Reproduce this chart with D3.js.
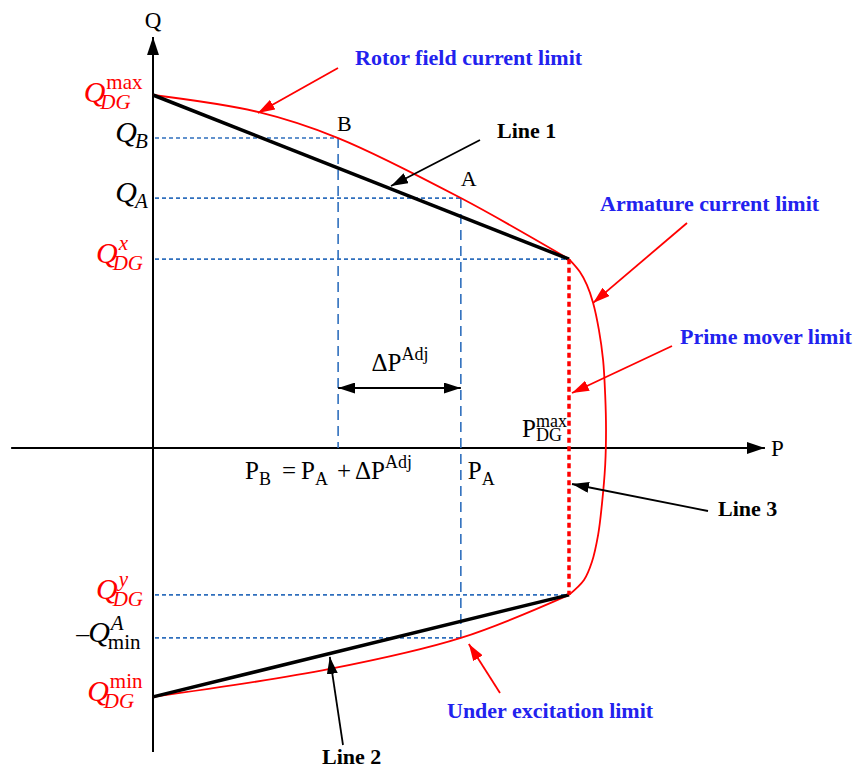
<!DOCTYPE html>
<html><head><meta charset="utf-8">
<script src="https://cdn.jsdelivr.net/npm/d3@7"></script>
<style>body{margin:0;background:#fff}svg{display:block}</style>
</head><body>
<svg id="c" width="857" height="771"></svg>
<script>
// ---- data (P and Q in relative units, P_DG^max = 100, Q_DG^max = 100) ----
const pLevelNames = ["PB", "PA", "Pmax"];
const pLevels = [44.5, 74, 100];
const qLevelNames = ["Qmax", "QB", "QA", "Qx", "Qy", "QminA", "Qmin"];
const qLevels = [100, 87.8, 70.8, 53.5, -41.6, -53.8, -70.5];
const rotorCurve = [[0, 100], [25.2, 95.2], [44.5, 87.8], [74, 70.8], [100, 53.5]];
const armatureCurve = [[100, 53.5], [102.6, 49.9], [104.3, 46.2], [105.8, 41.1], [107.2, 33.4], [108.2, 24.9],
  [108.7, 15.0], [108.9, 5.1], [108.7, -4.8], [107.9, -16.1], [107.0, -24.6], [105.5, -32.3], [103.6, -37.4], [100, -41.6]];
const underExcCurve = [[100, -41.6], [74, -53.8], [42.5, -62.6], [0, -70.5]];
const line1 = [[0, 100], [100, 53.5]];
const line2 = [[0, -70.5], [100, -41.6]];
const line3 = [[100, 53.5], [100, -41.6]];
const axisP = [-34.1, 147.1];
const axisQ = [-86.1, 116.4];

const P = {}; pLevelNames.forEach((n, i) => P[n] = pLevels[i]);
const Q = {}; qLevelNames.forEach((n, i) => Q[n] = qLevels[i]);

const svg = d3.select("#c");
const x = d3.scaleLinear().domain([0, 100]).range([153, 569]);
const y = d3.scaleLinear().domain([0, 100]).range([448, 95]);

const RED = "#ff0000", BLUE = "#2222ee", DBLUE = "#2f6fbd";
const FONT = "'Liberation Serif','Times New Roman',serif";

const defs = svg.append("defs");
function marker(id, color, w, h) {
  defs.append("marker").attr("id", id).attr("viewBox", `0 0 ${w} ${h}`)
    .attr("refX", w).attr("refY", h / 2).attr("markerWidth", w).attr("markerHeight", h)
    .attr("markerUnits", "userSpaceOnUse").attr("orient", "auto-start-reverse")
    .append("path").attr("d", `M0,0L${w},${h / 2}L0,${h}Z`).attr("fill", color);
}
marker("ar", RED, 17, 11);
marker("ab", "#000", 17, 11);
marker("ax", "#000", 18, 12);

const lineGen = d3.line().x(d => x(d[0])).y(d => y(d[1]));

// axes
svg.append("line").attr("x1", x(axisP[0])).attr("x2", x(axisP[1])).attr("y1", y(0)).attr("y2", y(0))
  .attr("stroke", "#000").attr("stroke-width", 2).attr("marker-end", "url(#ax)");
svg.append("line").attr("x1", x(0)).attr("x2", x(0)).attr("y1", y(axisQ[0])).attr("y2", y(axisQ[1]))
  .attr("stroke", "#000").attr("stroke-width", 2).attr("marker-end", "url(#ax)");
svg.append("text").attr("x", x(0)).attr("y", 28).attr("text-anchor", "middle")
  .attr("font-family", FONT).attr("font-size", 23).text("Q");
svg.append("text").attr("x", x(axisP[1]) + 6).attr("y", y(0) + 8)
  .attr("font-family", FONT).attr("font-size", 23).text("P");

// blue guide lines
const hGuides = [[Q.QB, P.PB], [Q.QA, P.PA], [Q.Qx, P.Pmax], [Q.Qy, P.Pmax], [Q.QminA, P.PA]];
hGuides.forEach(g => svg.append("line").attr("x1", x(0) + 2).attr("x2", x(g[1])).attr("y1", y(g[0])).attr("y2", y(g[0]))
  .attr("stroke", DBLUE).attr("stroke-width", 1.6).attr("stroke-dasharray", "4,3"));
const vGuides = [[P.PB, Q.QB, 0], [P.PA, Q.QA, Q.QminA]];
vGuides.forEach(g => svg.append("line").attr("x1", x(g[0])).attr("x2", x(g[0])).attr("y1", y(g[1])).attr("y2", y(g[2]))
  .attr("stroke", DBLUE).attr("stroke-width", 1.6).attr("stroke-dasharray", "10,6"));

// limit curves
[rotorCurve, armatureCurve, underExcCurve].forEach(c =>
  svg.append("path").attr("d", d3.line().x(d => x(d[0])).y(d => y(d[1])).curve(d3.curveCatmullRom.alpha(0.5))(c))
    .attr("fill", "none").attr("stroke", RED).attr("stroke-width", 1.8));

// lines 1,2,3
svg.append("path").attr("d", lineGen(line1)).attr("stroke", "#000").attr("stroke-width", 3.5).attr("fill", "none");
svg.append("path").attr("d", lineGen(line2)).attr("stroke", "#000").attr("stroke-width", 3.5).attr("fill", "none");
svg.append("path").attr("d", lineGen(line3)).attr("stroke", RED).attr("stroke-width", 3.5).attr("fill", "none")
  .attr("stroke-dasharray", "5,3.5");

// delta P double arrow
svg.append("line").attr("x1", x(P.PB)).attr("x2", x(P.PA)).attr("y1", 388).attr("y2", 388)
  .attr("stroke", "#000").attr("stroke-width", 2)
  .attr("marker-start", "url(#ab)").attr("marker-end", "url(#ab)");

// rich label helper: parts: {t, size, italic, pos: 'base'|'sup'|'sub'}
function richLabel(parts, anchorX, baseY, color, align) {
  const g = svg.append("g");
  let cx = 0, lastBaseEnd = 0;
  parts.forEach(p => {
    const t = g.append("text").attr("font-family", FONT).attr("font-size", p.size)
      .attr("font-style", p.italic ? "italic" : "normal").attr("fill", color).text(p.t);
    let px = cx, py = 0;
    if (p.pos === "sup") { px = lastBaseEnd + (p.dx || 0); py = p.dy !== undefined ? p.dy : -11; }
    else if (p.pos === "sub") { px = lastBaseEnd + (p.dx || 0); py = p.dy !== undefined ? p.dy : 6; }
    t.attr("x", px).attr("y", py);
    const w = t.node().getComputedTextLength();
    if (p.pos === "base" || !p.pos) { px = cx + (p.dx || 0); t.attr("x", px); cx = px + w; lastBaseEnd = cx; }
    else { cx = Math.max(cx, px + w); }
  });
  const bb = g.node().getBBox();
  const tx = align === "end" ? anchorX - (bb.x + bb.width) : (align === "middle" ? anchorX - (bb.x + bb.width / 2) : anchorX - bb.x);
  g.attr("transform", `translate(${tx},${baseY})`);
  return g;
}

// Q labels on the left
const QS = 30, SS = 21;
richLabel([{t: "Q", size: QS, italic: true}, {t: "max", size: SS, pos: "sup", dy: -13, dx: 1}, {t: "DG", size: SS, italic: true, pos: "sub", dy: 7, dx: -5}], 143, y(Q.Qmax) + 7, RED, "end");
richLabel([{t: "Q", size: QS, italic: true}, {t: "B", size: SS, italic: true, pos: "sub", dy: 6, dx: -2}], 148, y(Q.QB) + 4, "#000", "end");
richLabel([{t: "Q", size: QS, italic: true}, {t: "A", size: SS, italic: true, pos: "sub", dy: 6, dx: -2}], 148, y(Q.QA) + 4, "#000", "end");
richLabel([{t: "Q", size: QS, italic: true}, {t: "x", size: SS, italic: true, pos: "sup", dy: -13, dx: 1}, {t: "DG", size: SS, italic: true, pos: "sub", dy: 7, dx: -5}], 143, y(Q.Qx) + 4, RED, "end");
richLabel([{t: "Q", size: QS, italic: true}, {t: "y", size: SS, italic: true, pos: "sup", dy: -13, dx: 1}, {t: "DG", size: SS, italic: true, pos: "sub", dy: 7, dx: -5}], 143, y(Q.Qy) + 4, RED, "end");
richLabel([{t: "\u2013", size: QS - 4}, {t: "Q", size: QS, italic: true, dx: -1}, {t: "A", size: SS, italic: true, pos: "sup", dy: -12, dx: 1}, {t: "min", size: SS, pos: "sub", dy: 7, dx: -2}], 141, y(Q.QminA) + 4, "#000", "end");
richLabel([{t: "Q", size: QS, italic: true}, {t: "min", size: SS, pos: "sup", dy: -13, dx: 1}, {t: "DG", size: SS, italic: true, pos: "sub", dy: 7, dx: -5}], 143, y(Q.Qmin) + 4, RED, "end");

// P labels
const PS = 25, PSS = 18;
richLabel([{t: "P", size: PS}, {t: "B", size: PSS, pos: "sub", dy: 6}, {t: "=", size: PS, dx: 11}, {t: "P", size: PS, dx: 5},
  {t: "A", size: PSS, pos: "sub", dy: 6}, {t: "+", size: PS, dx: 9}, {t: "\u0394P", size: PS, dx: 4},
  {t: "Adj", size: PSS, pos: "sup", dy: -11}], 245, y(0) + 31, "#000", "start");
richLabel([{t: "P", size: PS}, {t: "A", size: PSS, pos: "sub", dy: 6}], x(P.PA) + 7, y(0) + 31, "#000", "start");
richLabel([{t: "\u0394P", size: PS}, {t: "Adj", size: PSS, pos: "sup", dy: -11}], 400, 371, "#000", "middle");
richLabel([{t: "P", size: PS}, {t: "max", size: PSS, pos: "sup", dy: -10}, {t: "DG", size: PSS, pos: "sub", dy: 4, dx: 0}], x(P.Pmax) - 2, y(0) - 11, "#000", "end");
svg.append("text").attr("x", x(P.PB) - 1).attr("y", 131).attr("font-family", FONT).attr("font-size", 22).text("B");
svg.append("text").attr("x", x(P.PA)).attr("y", 186).attr("font-family", FONT).attr("font-size", 22).text("A");

// annotations
function note(txt, tx, ty, color, from, to, arrowColor, marker) {
  svg.append("text").attr("x", tx).attr("y", ty).attr("font-family", FONT).attr("font-size", 22)
    .attr("font-weight", "bold").attr("fill", color).text(txt);
  svg.append("line").attr("x1", from[0]).attr("y1", from[1]).attr("x2", to[0]).attr("y2", to[1])
    .attr("stroke", arrowColor).attr("stroke-width", 1.8).attr("marker-end", `url(#${marker})`);
}
note("Rotor field current limit", 355, 65, BLUE, [338, 68], [x(25.2), y(95.2) + 1], RED, "ar");
note("Line 1", 497, 138, "#000", [480, 140], [391, 186], "#000", "ab");
note("Armature current limit", 600, 211, BLUE, [687, 223], [x(105.8), y(41.1)], RED, "ar");
note("Prime mover limit", 680, 344, BLUE, [672, 346], [x(100) + 3, 393], RED, "ar");
note("Line 3", 718, 516, "#000", [708, 511], [x(100) + 3, 484], "#000", "ab");
note("Under excitation limit", 447, 718, BLUE, [500, 693], [x(74) + 8, y(-53.8) + 6], RED, "ar");
note("Line 2", 322, 764, "#000", [343, 745], [x(42.5) + 0, y(-62.6) - 12], "#000", "ab");
</script>
</body></html>
